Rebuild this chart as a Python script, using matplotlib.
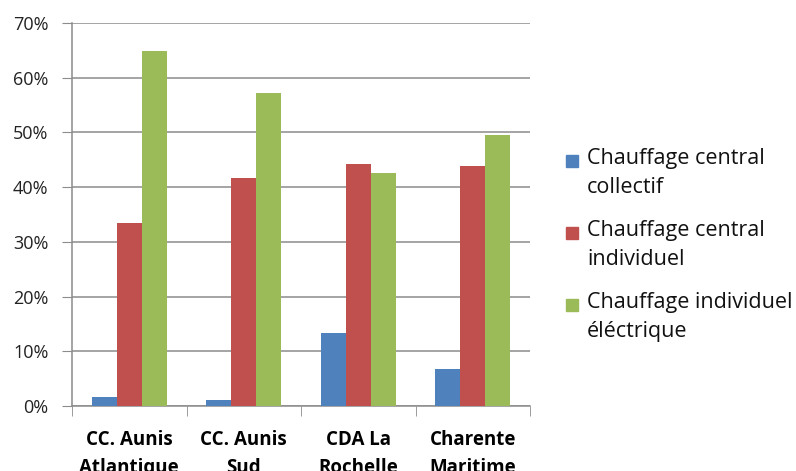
import numpy as np
import matplotlib
matplotlib.use("Agg")
import matplotlib.pyplot as plt
from matplotlib.patches import Rectangle

plt.rcParams['font.family'] = ['Open Sans', 'DejaVu Sans']

groups = ["CC. Aunis\nAtlantique", "CC. Aunis\nSud", "CDA La\nRochelle", "Charente\nMaritime"]
series = ["Chauffage central\ncollectif", "Chauffage central\nindividuel", "Chauffage individuel\néléctrique"]
collectif = [1.7, 1.1, 13.3, 6.7]
individuel = [33.5, 41.6, 44.2, 43.8]
electrique = [64.8, 57.2, 42.5, 49.5]
yticks = [0, 10, 20, 30, 40, 50, 60, 70]

colors = ["#4F81BD", "#C0504D", "#9BBB59"]
values = [collectif, individuel, electrique]

fig = plt.figure(figsize=(7.96, 4.71), dpi=100)
ax = fig.add_axes([72/796, 1-406/471, 458/796, 383/471])

x = np.arange(len(groups))
w = 0.218
for i, (vals, col) in enumerate(zip(values, colors)):
    ax.bar(x + (i-1)*w, vals, w, color=col, zorder=3)

ax.set_xlim(-0.5, len(groups)-0.5)
ax.set_ylim(0, 70)
ax.set_yticks(yticks)
ax.set_yticklabels(["%d%%" % v for v in yticks], fontsize=13, color="#222222")
ax.yaxis.grid(True, color="#8c8c8c", linewidth=1.1, zorder=0)

ax.set_xticks(x)
ax.set_xticklabels(groups, fontsize=13.5, fontweight="bold", linespacing=1.55)
ax.set_xticks(np.arange(len(groups)+1)-0.5, minor=True)
ax.tick_params(axis="x", which="major", length=0, pad=17)
ax.tick_params(axis="x", which="minor", length=7, color="#8c8c8c", direction="out")
ax.tick_params(axis="y", length=7, color="#8c8c8c", pad=10)

for s in ["top", "right"]:
    ax.spines[s].set_visible(False)
for s in ["left", "bottom"]:
    ax.spines[s].set_color("#8c8c8c")
    ax.spines[s].set_linewidth(1.1)

# legende a droite
for i, (lab, col) in enumerate(zip(series, colors)):
    ytop = 148 + i*72
    fig.patches.append(Rectangle((566/796, 1-(ytop+19)/471), 12/796, 12/471,
                                 transform=fig.transFigure, color=col))
    fig.text(587/796, 1-ytop/471, lab, fontsize=15.5, va="top", ha="left",
             linespacing=1.5, color="#111111")

fig.savefig("out.png", dpi=100)
